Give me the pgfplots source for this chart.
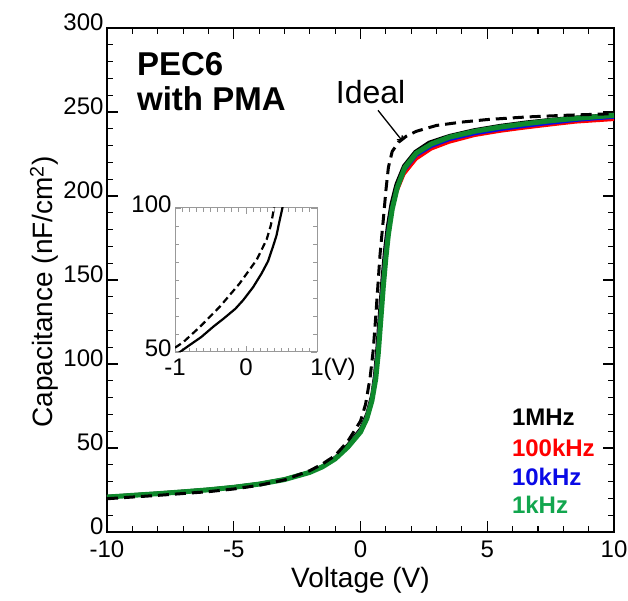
\documentclass[border=0pt]{standalone}
\usepackage{fontspec}
\setmainfont{Liberation Sans}
\usepackage{pgfplots}
\pgfplotsset{compat=1.18}
\usetikzlibrary{arrows.meta}
\definecolor{cgreen}{HTML}{0E8A2C}
\definecolor{tgreen}{HTML}{12A64E}
\definecolor{cblue}{HTML}{0A0AE6}
\definecolor{cred}{HTML}{FF0000}

% 1MHz
\pgfplotstableread{
V C
-10 21.2
-8 23.2
-6 25.5
-5 27
-4 28.9
-3 31.6
-2 35.9
-1.5 39.3
-1 44.5
-0.5 52
0 61.5
0.25 70.5
0.45 82
0.55 93
0.65 110
0.75 131
0.85 151
0.95 168
1.05 181
1.2 195
1.4 207
1.7 218
2.15 226.5
2.7 232
3.5 236
4.5 239.5
5.5 242
6.5 244
7.5 245.6
8.5 247
10 248.5
}\tabA
% 100kHz
\pgfplotstableread{
V C
-10 21
-8 23
-6 25.3
-5 26.8
-4 28.7
-3 31.4
-2 35.7
-1.5 39
-1 44
-0.5 51
0 60.5
0.25 69
0.45 80
0.57 92
0.67 107
0.77 127
0.87 147
0.97 164
1.07 177
1.22 190
1.42 202
1.72 213
2.2 222
2.8 228
3.5 232
4.5 236
5.5 238.5
6.5 240.5
7.5 242.3
8.5 244
10 245.5
}\tabB
% 10kHz
\pgfplotstableread{
V C
-10 21
-8 23
-6 25.3
-5 26.8
-4 28.7
-3 31.4
-2 35.7
-1.5 39
-1 44
-0.5 51
0 60.5
0.25 69
0.45 80
0.57 92
0.67 107
0.77 127
0.87 147
0.97 164
1.07 178
1.22 192
1.42 204
1.72 215
2.2 224
2.8 229.5
3.5 233.5
4.5 237
5.5 239.5
6.5 241.5
7.5 243.3
8.5 245
10 246.8
}\tabC
% 1kHz
\pgfplotstableread{
V C
-10 20.8
-9 21.8
-8 22.8
-7 23.9
-6 25.1
-5 26.6
-4 28.5
-3 31.2
-2 35.5
-1.5 38.8
-1 43.5
-0.5 50.5
0 59.5
0.25 67.5
0.45 78
0.6 91
0.7 106
0.8 126
0.9 146
1.0 163
1.1 177
1.25 192
1.45 205
1.75 217
2.2 225.5
2.8 231
3.5 235
4.5 238.5
5.5 241
6.5 243
7.5 244.8
8.5 246.2
10 248
}\tabD
% Ideal
\pgfplotstableread{
V C
-10 19.8
-8 21.8
-6 24
-5 25.6
-4 27.8
-3 31
-2 36.5
-1.5 40.5
-1 45.5
-0.5 54
0 66
0.2 76
0.38 92
0.5 108
0.6 128
0.77 165
0.9 186
1.0 203
1.1 217
1.25 226.5
1.5 232
1.8 235.5
2.2 238.5
3 242
4 244
5 245.5
6.5 247
8 248
10 249
}\tabI
% inset
\pgfplotstableread{
V C
-1 48.7
-0.93 50
-0.8 52.3
-0.63 55.2
-0.45 59
-0.32 61.5
-0.15 65
-0.04 68
0.1 72.5
0.22 77.3
0.31 81.5
0.38 86.6
0.43 90.5
0.466 94.8
0.513 100
0.53 103
}\insA
\pgfplotstableread{
V C
-1 51.5
-0.95 52.3
-0.88 53.5
-0.65 58.7
-0.37 65.7
-0.09 73.8
0.15 82
0.29 89
0.35 94
0.38 98
0.4 101
}\insI

\begin{document}
\begin{tikzpicture}
\begin{axis}[
  scale only axis, width=507pt, height=504pt,
  xmin=-10, xmax=10, ymin=0, ymax=300,
  xtick={-10,-5,0,5,10}, ytick={0,50,...,300},
  minor x tick num=4, minor y tick num=4,
  tick align=inside, major tick length=11pt, minor tick length=6pt,
  axis line style={line width=1.3pt},
  tick style={black, line width=1.1pt},
  /pgf/number format/assume math mode=true,
  tick label style={font=\fontsize{24}{28}\selectfont},
  xticklabel style={yshift=-5pt},
  yticklabel style={yshift=6pt},
  xlabel={Voltage (V)},
  ylabel={Capacitance (nF/cm\textsuperscript{2})},
  label style={font=\fontsize{28}{32}\selectfont},
  xlabel style={yshift=-3pt},
  ylabel style={yshift=-2pt, xshift=-12pt},
]
\addplot[black, line width=3pt] table {\tabA};
\addplot[cred, line width=3pt] table {\tabB};
\addplot[cblue, line width=3pt] table {\tabC};
\addplot[cgreen, line width=5pt] table {\tabD};
\addplot[black, line width=3pt, dash pattern=on 11pt off 6pt] table {\tabI};
\node[anchor=north west, align=left, font=\fontsize{33}{35}\selectfont\bfseries, inner sep=0pt]
  at (rel axis cs:0.059,0.952) {PEC6\\with PMA};
\node[font=\fontsize{32}{36}\selectfont] at (axis cs:0.4,262) {Ideal};
\draw[black, line width=1.3pt, -{Straight Barb[length=3pt,width=7pt]}] (axis cs:0.69,251) -- (axis cs:1.64,233);
\node[anchor=west, font=\fontsize{24}{28}\selectfont\bfseries, inner sep=0pt] at (axis cs:5.97,68.5) {1MHz};
\node[anchor=west, font=\fontsize{24}{28}\selectfont\bfseries, inner sep=0pt, text=cred] at (axis cs:5.97,50) {100kHz};
\node[anchor=west, font=\fontsize{24}{28}\selectfont\bfseries, inner sep=0pt, text=cblue] at (axis cs:5.97,32.7) {10kHz};
\node[anchor=west, font=\fontsize{24}{28}\selectfont\bfseries, inner sep=0pt, text=tgreen] at (axis cs:5.97,16) {1kHz};
\end{axis}
\begin{axis}[
  at={(68pt,180pt)}, anchor=south west,
  scale only axis, width=142pt, height=144pt,
  xmin=-1, xmax=1, ymin=50, ymax=100,
  xtick={-1,0,1}, xticklabels={-1,0,1\rlap{(V)}},
  ytick={50,100},
  minor x tick num=9, minor y tick num=7,
  tick align=inside, major tick length=6pt, minor tick length=4pt,
  axis line style={gray!80, line width=1pt},
  tick style={gray!80, line width=0.9pt},
  /pgf/number format/assume math mode=true,
  tick label style={font=\fontsize{24}{28}\selectfont},
  xticklabel style={yshift=-3pt},
  yticklabel style={xshift=0pt, yshift=4pt},
  axis background/.style={fill=white},
]
\addplot[black, line width=2.2pt] table {\insA};
\addplot[black, line width=2.2pt, dash pattern=on 7pt off 4pt] table {\insI};
\node[anchor=south, font=\fontsize{23}{27}\selectfont, inner sep=0pt] at (rel axis cs:0.02,1.09) {(nF/cm\textsuperscript{2})};
\end{axis}
\pgfresetboundingbox
\path[use as bounding box] (-107pt,-69pt) rectangle (521pt,532pt);
\end{tikzpicture}
\end{document}
